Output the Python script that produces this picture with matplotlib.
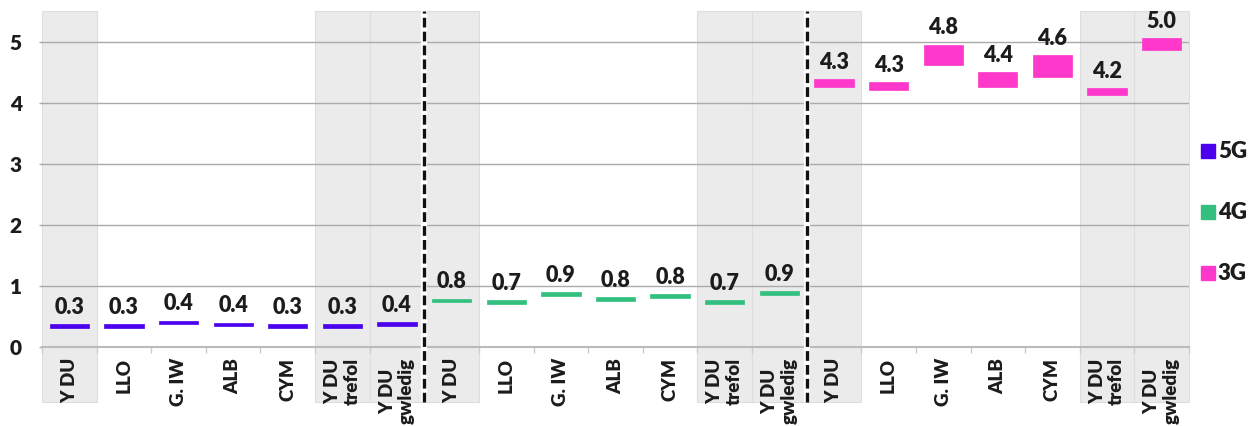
import matplotlib
matplotlib.use('Agg')
import matplotlib.pyplot as plt
from matplotlib.lines import Line2D

plt.rcParams['font.family'] = ['Lato', 'DejaVu Sans']
plt.rcParams['lines.scale_dashes'] = False

# Ardaloedd ar gyfer pob technoleg
regions = ['Y DU', 'LLO', 'G. IW', 'ALB', 'CYM', 'Y DU\ntrefol', 'Y DU\ngwledig']
shaded = ['Y DU', 'Y DU\ntrefol', 'Y DU\ngwledig']
techs = ['5G', '4G', '3G']
colors = ['#4b00ee', '#33c07f', '#ff38cc']

# Ystod isaf / uchaf pob bar
low_5g = [0.31, 0.31, 0.37, 0.34, 0.31, 0.31, 0.35]
high_5g = [0.37, 0.37, 0.43, 0.40, 0.37, 0.37, 0.41]
low_4g = [0.73, 0.71, 0.84, 0.76, 0.80, 0.71, 0.85]
high_4g = [0.79, 0.77, 0.90, 0.82, 0.87, 0.77, 0.91]
low_3g = [4.26, 4.21, 4.62, 4.26, 4.42, 4.12, 4.86]
high_3g = [4.38, 4.33, 4.95, 4.50, 4.78, 4.24, 5.05]

lows = [low_5g, low_4g, low_3g]
highs = [high_5g, high_4g, high_3g]

W, H = 1260, 426
fig = plt.figure(figsize=(W / 100, H / 100), dpi=100)
ax = fig.add_axes([42 / W, 1 - 347 / H, (1189 - 42) / W, (347 - 11) / H])

n = len(regions)
below = -0.164
xt = ax.get_xaxis_transform()
txt = '#1c1c1c'

for g in range(len(techs)):
    for i, reg in enumerate(regions):
        x = g * n + i
        lo, hi = lows[g][i], highs[g][i]
        if reg in shaded:
            ax.axvspan(x - 0.5, x + 0.5, ymin=below, ymax=1, facecolor='#ebebeb',
                       edgecolor='#dedede', lw=0.8, clip_on=False, zorder=0)
        ax.bar(x, hi - lo, bottom=lo, width=0.72, color=colors[g], edgecolor=colors[g],
               linewidth=0.5, joinstyle='round', zorder=2)
        mid = (lo + hi) / 2
        ax.annotate(f'{mid:.1f}', (x, hi), xytext=(0, 4.5), textcoords='offset points',
                    ha='center', va='bottom', fontsize=15.5, fontweight='heavy',
                    color=txt, zorder=4)
        ax.text(x, -0.033, reg, transform=xt, rotation=90, ha='center', va='top',
                multialignment='center', fontsize=13.5, fontweight='heavy',
                color=txt, linespacing=1.15)

# llinellau toriad rhwng grwpiau
for g in range(1, len(techs)):
    xb = g * n - 0.5
    ax.plot([xb, xb], [below, 1], transform=xt, color='white', lw=4.5,
            clip_on=False, zorder=3, solid_capstyle='butt')
    ax.plot([xb, xb], [below, 1], transform=xt, color='#111111', lw=2.4,
            dashes=(7, 3), clip_on=False, zorder=3.5)

ax.set_xlim(-0.5, len(techs) * n - 0.5)
ax.set_ylim(0, 5.5)
ax.set_yticks(range(6))
ax.yaxis.grid(True, color='#aaaaaa', lw=1)
ax.set_axisbelow(True)
ax.set_xticks([k - 0.5 for k in range(len(techs) * n + 1)])
ax.set_xticklabels([])
ax.tick_params(axis='x', length=4, color='#cccccc', width=1)
ax.tick_params(axis='y', length=2.5, color='#aaaaaa', width=1, pad=12,
               labelsize=15, labelcolor=txt)
for lab in ax.get_yticklabels():
    lab.set_fontweight('heavy')
for s in ['top', 'right', 'left']:
    ax.spines[s].set_visible(False)
ax.spines['bottom'].set_color('#bbbbbb')
ax.spines['bottom'].set_linewidth(1.5)

# allwedd
for k, (t, c) in enumerate(zip(techs, colors)):
    yy = 1 - (151 + 61 * k) / H
    fig.add_artist(Line2D([1207.5 / W], [yy], marker='s', markersize=10.5, color=c,
                          markeredgecolor=c, transform=fig.transFigure))
    fig.text(1218 / W, yy, t, ha='left', va='center', fontsize=16,
             fontweight='heavy', color=txt)

fig.savefig('out.png', dpi=100)
